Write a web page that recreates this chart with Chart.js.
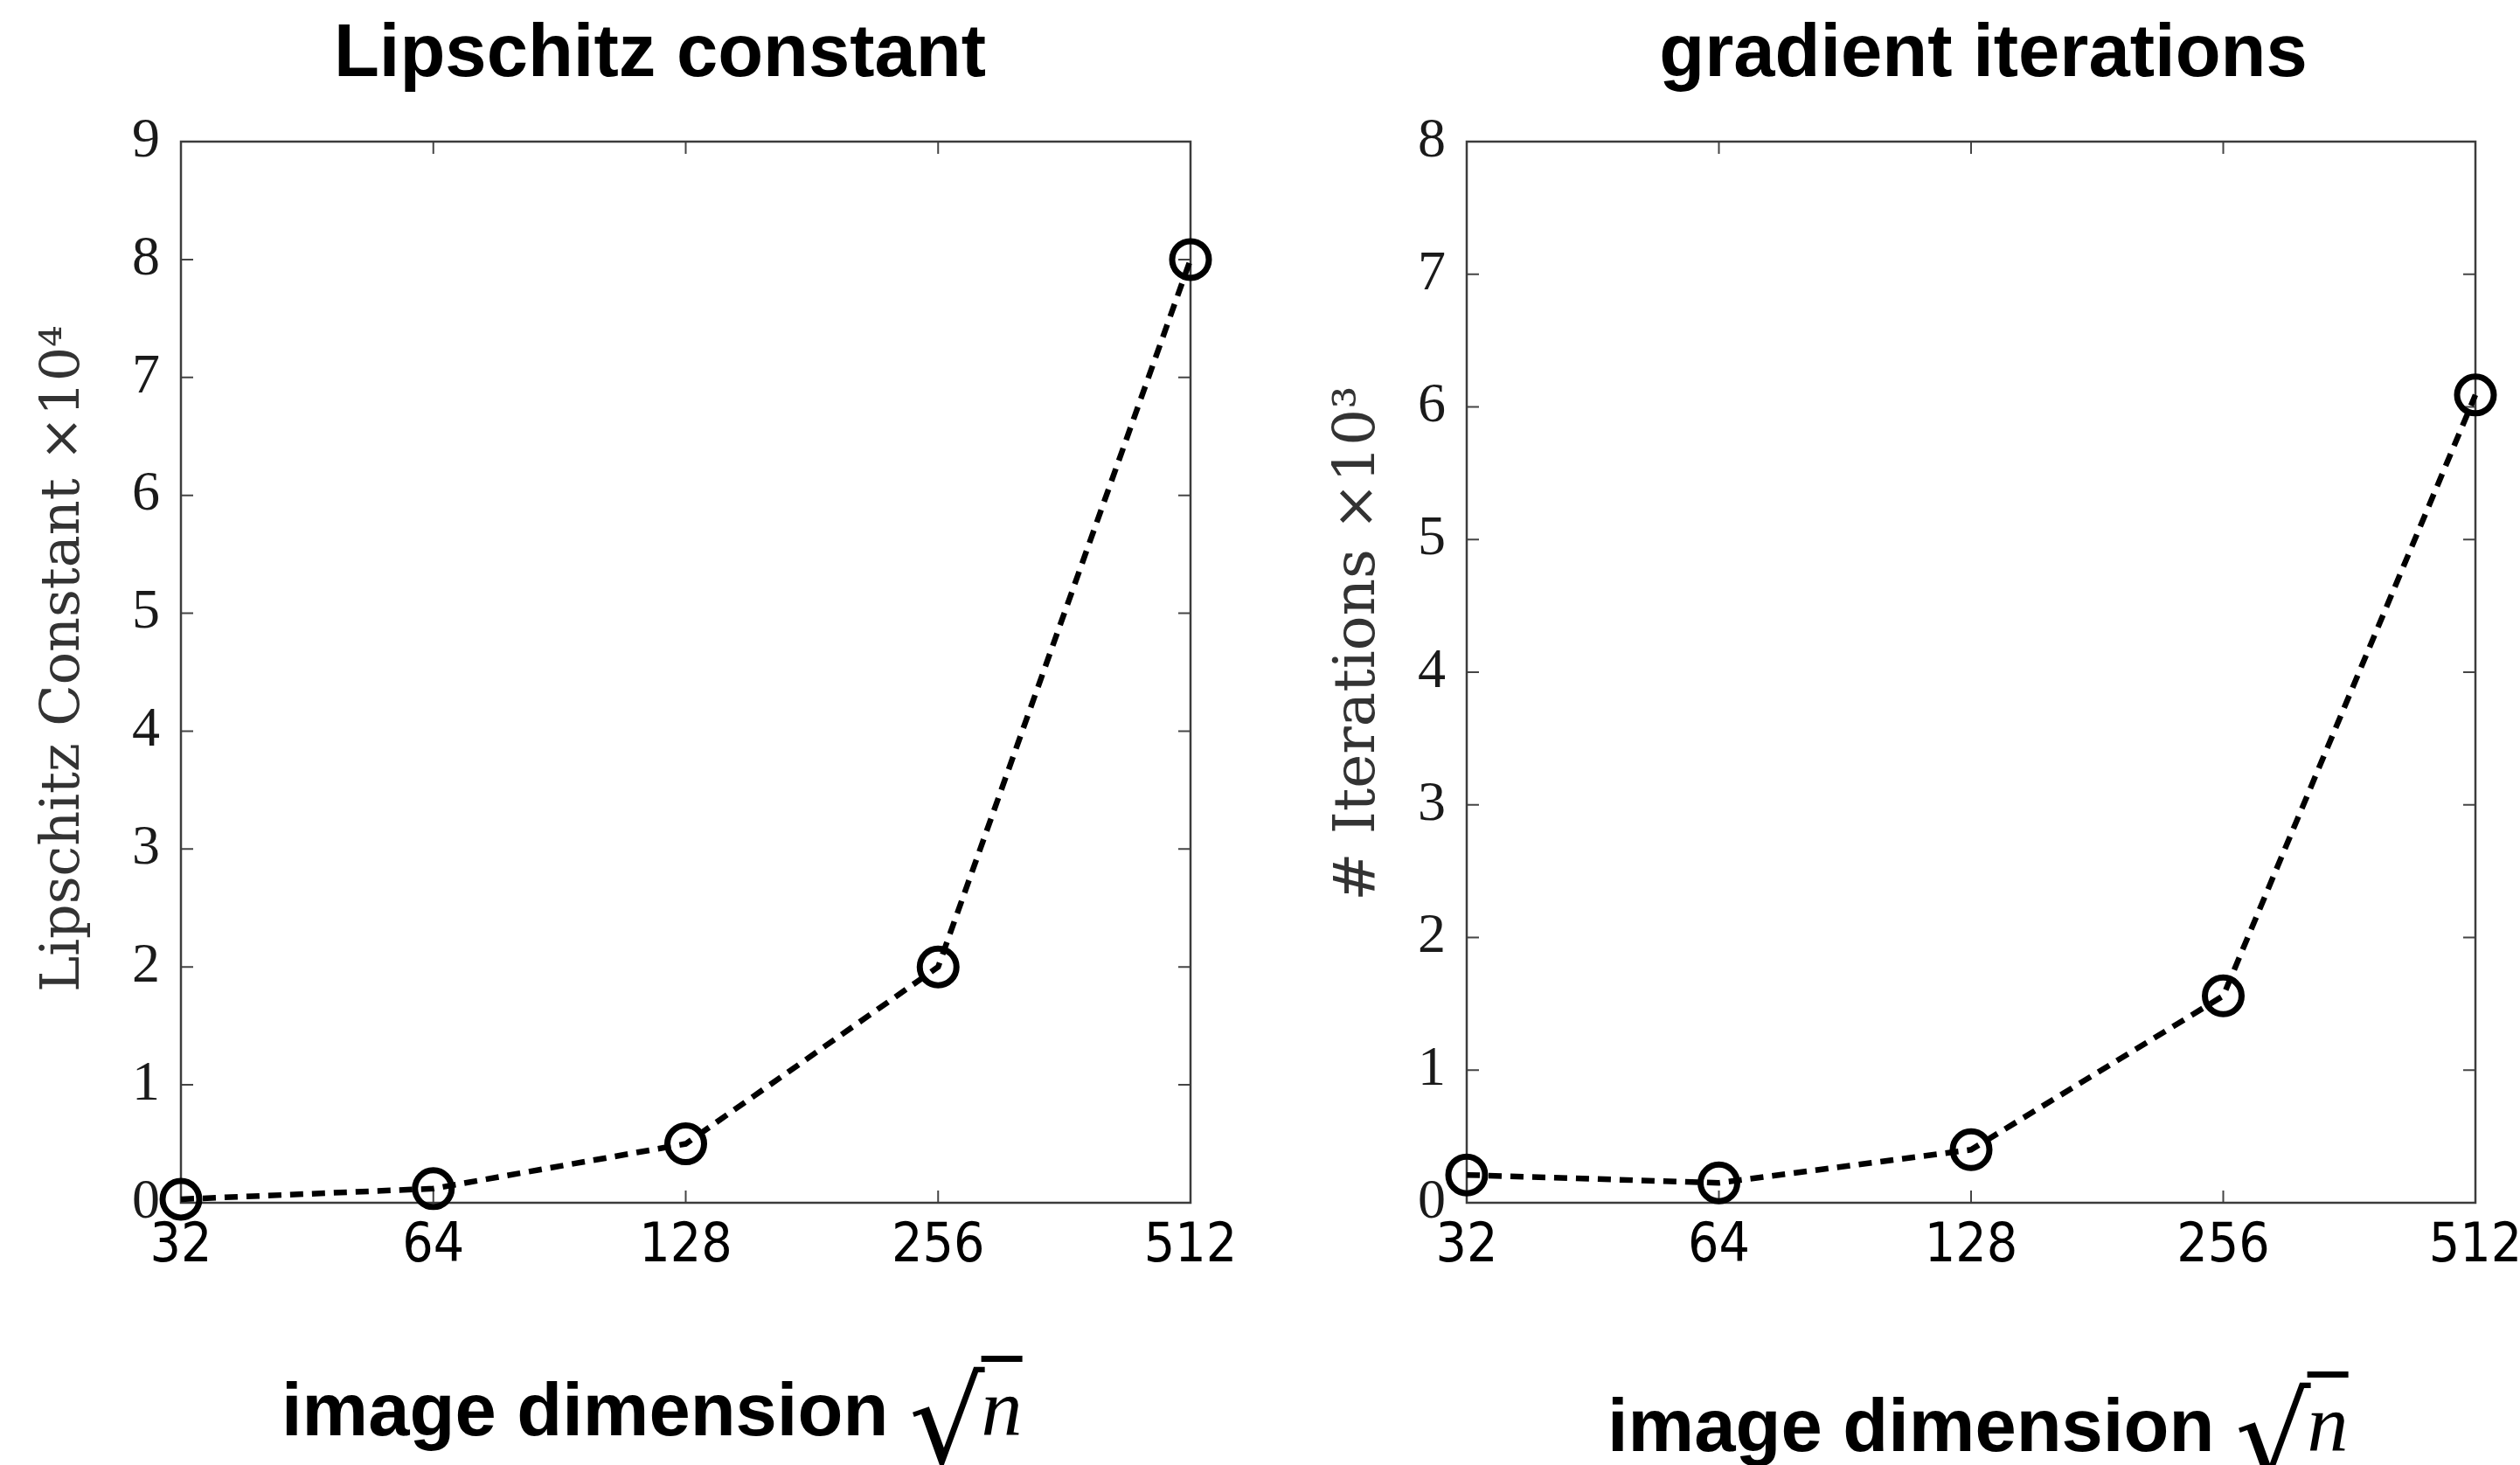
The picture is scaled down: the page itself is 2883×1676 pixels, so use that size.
<!DOCTYPE html>
<html>
<head>
<meta charset="utf-8">
<title>Lipschitz constant and gradient iterations</title>
<script src="https://cdn.jsdelivr.net/npm/chart.js@4.4.1/dist/chart.umd.min.js"></script>
<style>
	html, body {
		margin: 0;
		padding: 0;
		background: #ffffff;
	}
	body {
		position: relative;
		width: 2883px;
		height: 1676px;
		overflow: hidden;
	}
	.panel {
		position: absolute;
		top: 0;
		height: 1676px;
	}
	.title {
		position: absolute;
		font: bold 85px "Liberation Sans", Arial, sans-serif;
		line-height: 1;
		white-space: nowrap;
		color: #000;
		transform: translateX(-50%);
	}
	.xlabel {
		position: absolute;
		font: bold 85px "Liberation Sans", Arial, sans-serif;
		line-height: 1;
		white-space: nowrap;
		color: #000;
	}
	.xlabel .rad {
		font: normal 136px "DejaVu Serif", serif;
		line-height: 0;
		margin-left: 0px;
		position: relative;
		top: 32px;
	}
	.xlabel .nbar {
		font: italic normal 94px "Liberation Serif", serif;
		line-height: 0;
		text-decoration: overline;
		text-decoration-thickness: 7px;
		margin-left: -4px;
	}
</style>
</head>
<body>
	<div class="panel" style="left:0;width:1440px;"><canvas id="lipschitzChart"></canvas></div>
	<div class="panel" style="left:1440px;width:1540px;"><canvas id="iterationsChart"></canvas></div>

	<div class="title" style="left:755px;top:15px;">Lipschitz constant</div>
	<div class="title" style="left:2269px;top:15px;">gradient iterations</div>

	<div class="xlabel" style="left:322px;top:1570px;">image dimension <span class="rad">√</span><span class="nbar">n</span></div>
	<div class="xlabel" style="left:1839px;top:1588px;">image dimension <span class="rad">√</span><span class="nbar">n</span></div>

<script>
// Chart data
const imageDims = ["32", "64", "128", "256", "512"];
const lipschitzValues = [0.03, 0.12, 0.5, 2.0, 8.0]; // x 10^4
const iterationValues = [0.21, 0.15, 0.4, 1.56, 6.09]; // x 10^3
const lipschitzTicks = [0, 1, 2, 3, 4, 5, 6, 7, 8, 9];
const iterationTicks = [0, 1, 2, 3, 4, 5, 6, 7, 8];

// Plugin: MATLAB style box with inward ticks on all four sides
const boxTicks = {
	id: "boxTicks",
	beforeDatasetsDraw(chart) {
		const { ctx, chartArea } = chart;
		const { left, right, top, bottom } = chartArea;
		const xScale = chart.scales.x;
		const yScale = chart.scales.y;
		const len = 14;

		ctx.save();
		ctx.strokeStyle = "#454545";
		ctx.lineWidth = 2;
		yScale.ticks.forEach((t, i) => {
			const py = yScale.getPixelForTick(i);
			ctx.beginPath();
			ctx.moveTo(left, py);
			ctx.lineTo(left + len, py);
			ctx.moveTo(right, py);
			ctx.lineTo(right - len, py);
			ctx.stroke();
		});
		xScale.ticks.forEach((t, i) => {
			const px = xScale.getPixelForTick(i);
			ctx.beginPath();
			ctx.moveTo(px, bottom);
			ctx.lineTo(px, bottom - len);
			ctx.moveTo(px, top);
			ctx.lineTo(px, top + len);
			ctx.stroke();
		});
		ctx.lineWidth = 2.5;
		ctx.strokeStyle = "#3c3c3c";
		ctx.strokeRect(left, top, right - left, bottom - top);
		ctx.restore();
	},
};

// Function to create one of the two panels
function createPanel(canvasId, values, yTicks, yTitle, frame) {
	const ctx = document.getElementById(canvasId).getContext("2d");
	return new Chart(ctx, {
		type: "line",
		data: {
			labels: imageDims,
			datasets: [
				{
					data: values,
					borderColor: "#000000",
					borderWidth: 6.5,
					borderDash: [15, 10],
					pointStyle: "circle",
					pointRadius: 21,
					pointBorderWidth: 7,
					pointBorderColor: "#000000",
					pointBackgroundColor: "rgba(0,0,0,0)",
					fill: false,
					tension: 0,
					clip: false,
				},
			],
		},
		options: {
			responsive: true,
			maintainAspectRatio: false,
			animation: false,
			devicePixelRatio: 1,
			layout: {
				padding: { left: 0, top: frame.top, right: frame.right, bottom: 0 },
			},
			plugins: {
				legend: { display: false },
				tooltip: { enabled: false },
			},
			scales: {
				x: {
					type: "category",
					offset: false,
					grid: { display: false, drawTicks: false },
					border: { display: false },
					ticks: {
						color: "#000000",
						padding: 14,
						maxRotation: 0,
						autoSkip: false,
						font: { family: "'DejaVu Sans Condensed', 'DejaVu Sans', sans-serif", size: 62 },
					},
					afterFit: (scale) => {
						scale.height = frame.xHeight;
					},
				},
				y: {
					min: yTicks[0],
					max: yTicks[yTicks.length - 1],
					grid: { display: false, drawTicks: false },
					border: { display: false },
					afterBuildTicks: (scale) => {
						scale.ticks = yTicks.map((v) => ({ value: v }));
					},
					ticks: {
						color: "#1a1a1a",
						padding: 24,
						font: { family: "'Liberation Serif', serif", size: 64 },
					},
					title: {
						display: true,
						text: yTitle,
						color: "#333333",
						padding: { top: frame.titlePad, bottom: 0 },
						font: { family: "'DejaVu Serif', serif", size: frame.titleSize, weight: "normal" },
					},
					afterFit: (scale) => {
						scale.width = frame.yWidth;
					},
				},
			},
		},
		plugins: [boxTicks],
	});
}

// leading spaces lift the rotated titles a little above the plot centre, as in the original
createPanel("lipschitzChart", lipschitzValues, lipschitzTicks, "\u2002Lipschitz Constant ×10⁴", {
	top: 162,
	right: 78,
	yWidth: 207,
	xHeight: 300,
	titlePad: 37,
	titleSize: 62,
});

createPanel("iterationsChart", iterationValues, iterationTicks, "\u2002\u2002# Iterations ×10³", {
	top: 162,
	right: 148,
	yWidth: 238,
	xHeight: 300,
	titlePad: 75,
	titleSize: 66,
});
</script>
</body>
</html>
